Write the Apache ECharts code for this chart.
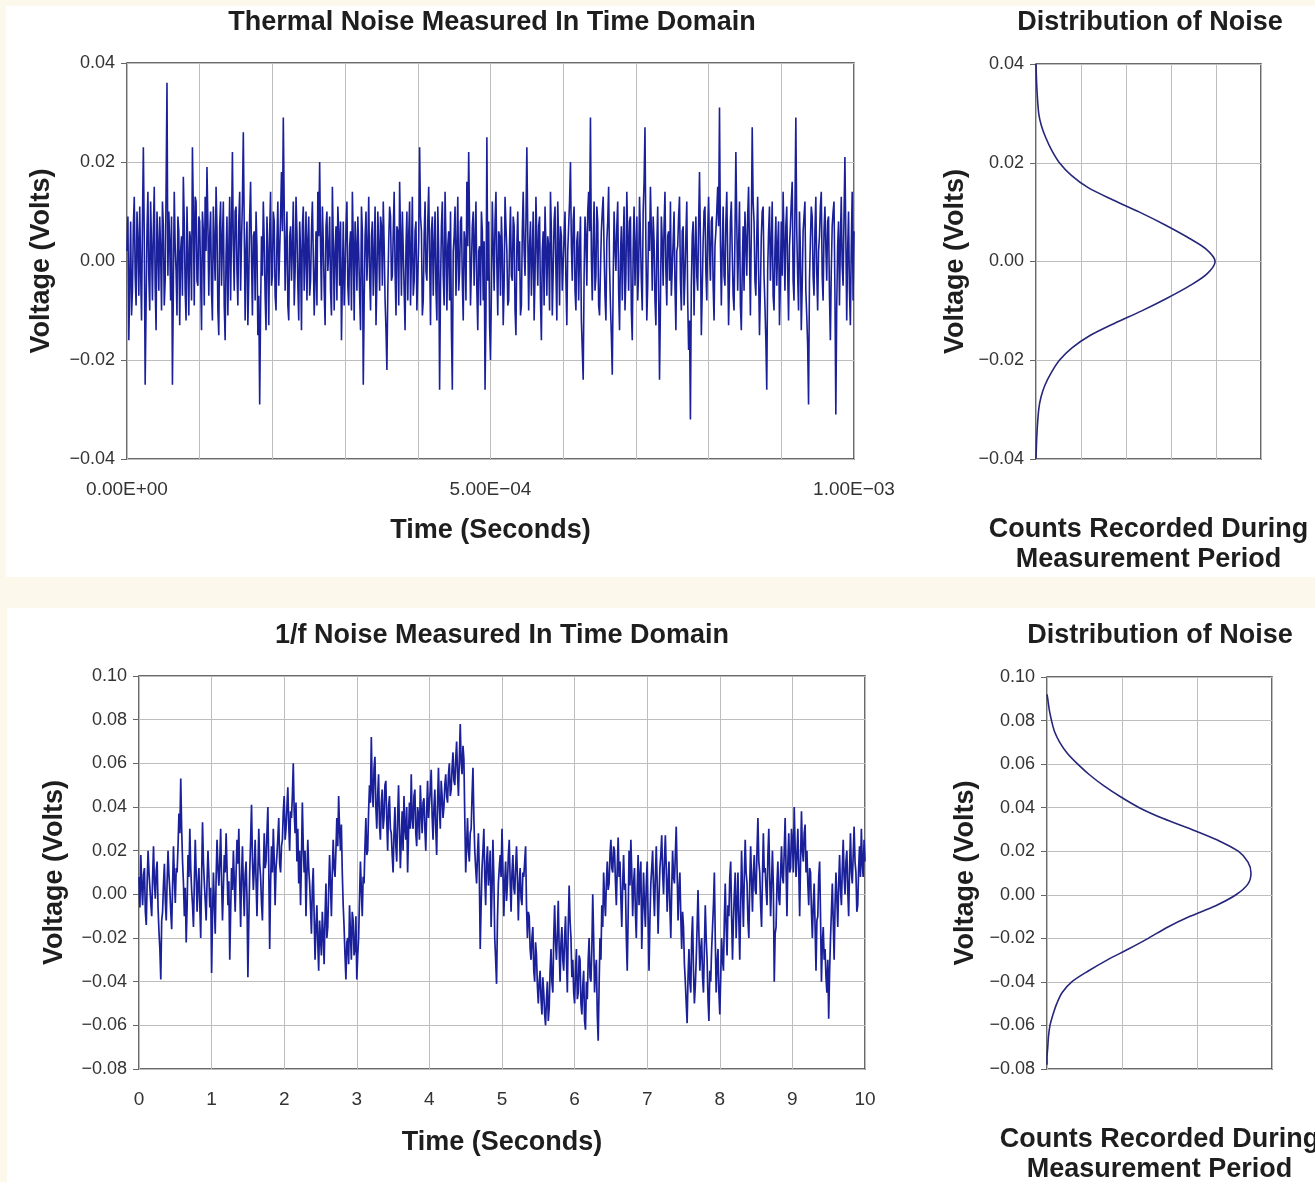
<!DOCTYPE html>
<html>
<head>
<meta charset="utf-8">
<title>Thermal and 1/f Noise</title>
<script src="https://cdn.jsdelivr.net/npm/echarts@6/dist/echarts.min.js"></script>
<style>
  html, body { margin: 0; padding: 0; background: #fdf8ec; }
  #chart { width: 1315px; height: 1182px; }
</style>
</head>
<body>
<div id="chart"></div>
<script>
// ---- Thermal noise record: 0 .. 1 ms, evenly spaced voltage samples in millivolts ----
const thermalDuration = 1e-3; // seconds
const thermalNoiseMillivolts = [
  2, 9, -16, -4, 8, -11, -6, 7, 13, -3, -9, 10, 4, -7, 11, -2, -12, 8, 23, 5, -25, -9, 6, 14, -3, -10, 12, 3, -8, 6, 15, -5, -14, 10, 3, -6, 9, 2, -10, 12,
  7, -9, -4, 14, 36, -3, 10, 4, -8, 9, -25, -6, 14, 3, -2, -11, 9, 6, -13, 2, 5, -7, 17, 8, -6, -12, 11, 1, -11, 6, 4, -8, 23, 10, -9, 13, 12, -4, -5, 9,
  8, -3, -14, 10, 6, -9, 13, 2, 19, 8, -7, 5, 10, -6, -12, 11, 3, -4, 15, 7, -10, -15, 7, 12, -5, 4, 12, -9, -16, 1, 9, -11, 2, 13, -8, 6, 22, 3, -6, 10,
  11, -2, -9, 8, 14, -6, 4, 12, 26, 7, -12, 2, 8, -13, -4, 9, 16, 1, -11, 5, 6, -8, 10, 3, -15, -7, -29, -10, 5, -3, 12, 4, -7, -14, 9, 2, -13, 6, 14, -5,
  -3, 10, 8, -7, -10, 4, 12, -5, 2, 9, 18, 6, 29, 11, -6, 3, 10, -9, -12, 5, 7, -4, 3, 12, -9, -2, 13, 6, -5, -12, 8, 2, -14, 7, 11, -6, 1, 10, -8, 4,
  9, -7, -4, 6, 12, 1, -11, -3, 6, -9, 14, 5, 20, 3, -8, 11, 4, -6, -13, 7, 10, -2, 2, 9, -6, -11, 15, 4, -10, 2, 7, -8, 11, 6, -5, 8, -16, -4, 8, -9,
  -2, 7, 12, -5, -9, 3, 6, -10, 14, 4, -12, 8, 3, -6, 9, 2, -7, -14, 11, 6, -25, -8, 5, 10, -4, 2, 13, -3, -10, 5, 8, -7, 1, 11, -13, -4, 10, 3, -6, 9,
  7, -5, 12, 3, -8, -14, -22, -6, 4, 11, 9, -4, -3, 6, 14, -2, -11, 7, 6, -9, 16, 5, -7, 10, 2, -6, -14, 3, 10, -8, 5, 12, -9, 1, 13, -7, -4, 6, 8, -10,
  -10, 4, 23, 9, 6, -11, -8, 5, 12, -2, -4, 8, 15, 1, -13, 6, 9, -7, 3, 10, -6, -12, 11, 2, -26, -5, 7, 12, -3, -9, 14, 4, -10, 3, 6, -8, 10, -14, -26, 2,
  5, 11, -7, 2, 13, -6, -2, 8, 9, -4, -12, 6, 4, -8, 16, 3, 22, 7, -9, -1, 7, 10, -5, 4, 12, -6, -14, 2, 3, -9, 10, 6, -8, 4, -26, -11, 25, -4, 8, -13,
  -20, -6, 12, 3, -6, 8, 14, -1, -11, 6, 5, -7, 9, 2, -13, -5, 13, 7, 2, -9, -8, 4, 11, -3, -4, 9, 7, -10, -15, 3, 10, -2, 4, -11, -9, 6, 14, 2, -3, 8,
  23, 6, -10, 3, 8, -7, 1, 10, -12, -3, 13, 4, -5, 7, 9, -8, -16, 2, 6, -9, 11, 3, -7, 5, 3, -10, 14, 6, -11, -2, 8, 11, -2, -12, 12, 4, -9, 7, 5, -6,
  -6, 5, 10, -4, -13, 2, 7, 12, 20, 3, -4, 8, 11, -6, -10, 4, 6, -8, 2, 9, -12, -18, -24, -3, 9, 5, -5, 10, 14, 6, 29, 1, -8, 4, 12, -6, -3, 11, 8, -9,
  -11, -2, 6, 10, 13, 2, -7, -12, 4, 8, 15, -1, -9, -15, -23, -4, 10, 3, -2, 7, 12, -6, -14, 1, 7, -8, 3, 11, -10, -3, 14, 5, -6, 8, 9, -10, -16, 2, 11, -5,
  2, 9, -8, -2, 13, 5, -4, -10, 10, 16, 27, 3, -12, -5, 8, 2, 15, 6, -6, 9, 4, -8, -13, 3, 11, -6, -24, -9, 9, 4, -5, 7, 14, -2, -9, 5, 6, -4, 12, -7,
  -7, 4, 10, -5, -14, 2, 3, 9, 13, -4, -10, 6, 7, -9, -3, 5, 12, -8, -18, -12, -32, -5, 5, 8, -11, 2, 9, -3, -6, 7, 18, 4, -15, -6, 4, 10, 11, -2, -8, 6,
  13, 2, -4, 8, 9, -5, -12, 3, 6, 10, 15, 7, 31, 4, -9, 2, 11, -3, -5, 8, 14, 1, -13, -4, 8, 12, 2, -7, -10, 5, 22, 8, -6, 3, 12, -9, -14, -2, 7, -6,
  10, 4, -3, 9, 15, 2, -11, 6, 27, 12, 8, -4, -7, 5, 13, -2, -15, -6, 5, 10, 11, -3, -9, -16, -26, -2, 6, 11, -4, 3, 12, -7, -10, 2, 9, -5, 3, 8, -13, -4,
  8, -3, 14, 4, -6, 7, 11, -2, -12, 3, 7, 12, 16, -4, -8, 10, 29, 6, -3, -10, 10, 2, -14, -5, 6, 9, 12, -6, -11, -17, -29, -4, 4, 11, 9, -3, -7, 6, 13, -2,
  -10, 2, 5, 11, 14, -3, -8, 6, 11, 3, -4, 8, 9, -7, -16, -2, 7, 10, 12, -6, -31, -9, 3, 8, -9, 4, 13, -1, -5, 9, 21, 5, -12, 2, 10, -6, -13, 3, 14, -8,
  6
];

// ---- 1/f noise record: 0 .. 10 s, evenly spaced voltage samples in millivolts ----
const flickerDuration = 10; // seconds
const flickerNoiseMillivolts = [
  8, -6, 18, 4, -5, 9, 12, -8, -14, 6, 20, 10, 3, -4, -10, 8, 22, 5, -2, 11,
  15, -6, -17, -25, -39, -12, -8, 5, 14, -3, -12, 6, 20, 9, 2, -8, -16, 4, 22, 7,
  -4, 12, 10, 22, 37, 28, 53, 30, 15, 5, -10, 3, -22, -6, 18, 8, 30, 12, 2, -5,
  -15, 6, 25, 10, -8, 4, 12, -5, -20, 8, 33, 15, 5, -3, -12, 6, 20, 9, -6, 3,
  -36, -10, 10, -4, -18, 8, 25, 12, 4, 15, 30, 6, -12, 3, 18, 10, 28, 12, -5, 6,
  -30, -8, 12, 2, 20, 6, -8, 10, 25, 14, 30, 5, -15, 8, 22, 4, -10, 9, 15, -2,
  -38, -12, 10, 25, 41, 16, 2, 12, 25, 6, -10, 10, 30, 14, 8, -4, -12, 10, 28, 12,
  15, 28, 40, 12, -25, 5, 22, 10, 30, 16, -5, 12, 18, 26, 35, 14, 10, 22, 25, 38,
  45, 25, 30, 40, 49, 32, 20, 38, 35, 45, 60, 38, 28, 42, 15, 30, 5, 20, -5, 15,
  42, 22, 10, 20, -10, 8, 25, 12, 5, -6, -18, 3, 12, -10, -30, -15, -5, -22, -35, -12,
  -20, -28, -8, -18, -32, -10, 5, -20, -15, 2, 18, 5, -10, 10, 25, 12, 8, 20, 35, 22,
  45, 30, 20, 32, 10, -5, -15, -28, -39, -22, -20, -32, -5, -18, -30, -8, -12, -28, -25, -10,
  -39, -28, -20, -2, 15, 2, -10, 8, 5, 22, 35, 18, 20, 38, 50, 42, 72, 48, 40, 58,
  63, 40, 30, 45, 55, 32, 25, 42, 48, 30, 35, 50, 52, 34, 20, 40, 45, 30, 28, 18,
  10, 28, 40, 22, 15, 35, 50, 30, 12, 25, 38, 20, 45, 30, 25, 40, 10, 28, 42, 30,
  55, 35, 30, 45, 48, 28, 22, 40, 36, 25, 50, 38, 28, 42, 44, 30, 20, 38, 52, 35,
  35, 48, 57, 36, 25, 40, 48, 30, 18, 42, 58, 40, 30, 52, 45, 35, 40, 50, 55, 45,
  42, 55, 60, 45, 48, 58, 65, 52, 50, 62, 70, 55, 45, 62, 78, 60, 55, 68, 62, 35,
  10, 22, 35, 20, 15, 28, 30, 45, 58, 35, 20, 12, 5, 18, 28, 10, -25, -5, 12, 20,
  30, 8, -5, 15, 22, 4, 10, 20, -15, 2, 25, 8, -20, -30, -41, -12, 5, 12, 18, 8,
  30, 12, -10, 5, 15, -3, 5, 18, 25, 6, -8, 10, 18, 3, 0, 12, 22, 8, -12, 4,
  12, -2, -5, 10, 8, 15, 22, -5, -20, -8, -10, -25, -30, -20, -15, -35, -40, -22, -28, -42,
  -50, -40, -35, -48, -55, -38, -45, -55, -60, -48, -40, -58, -52, -35, -25, -40, -45, -20, -5, -22,
  -30, -18, -3, -25, -40, -22, -15, -30, -35, -20, -10, -28, -45, -15, 4, -12, -20, -38, -30, -45,
  -50, -35, -25, -48, -45, -28, -30, -50, -55, -42, -35, -58, -62, -40, -48, -30, -20, -38, -40, -25,
  0, -20, -45, -35, -30, -55, -67, -42, -20, -30, -5, -15, 10, -2, -10, 5, 15, 2, 5, 18,
  25, 12, 10, 22, 20, 6, -5, 12, 26, 8, 15, -2, -15, 5, 18, 2, 5, -20, -35, -10,
  20, 4, 25, 10, -10, 5, 12, -8, -20, 3, 18, -5, 8, 15, -25, -8, 10, -5, -15, 5,
  15, -10, -35, -12, 5, 12, 20, 2, -10, 8, 22, 5, -18, -2, 12, 18, 27, 10, 0, 15,
  27, 12, -8, 5, 15, -6, -20, 2, 20, 8, 5, 18, 31, 10, -12, 2, 10, -10, -25, -8,
  -15, -32, -40, -50, -59, -38, -25, -40, -45, -20, -10, -35, -50, -42, -30, -15, 2, -18, -35, -25,
  -20, -38, -45, -25, -5, -20, -30, -48, -58, -35, -40, -25, -15, -5, 10, -20, -45, -32, -25, -45,
  -55, -38, -20, -30, -35, -12, 5, -15, -28, -5, -10, 8, 15, -10, -30, -12, 0, 10, -20, -5,
  10, -12, -30, -5, 20, 2, -15, 8, 25, 10, 5, -12, -20, 5, 22, 6, -8, 10, 18, 2,
  0, 20, 35, 15, 10, -5, -15, 8, 28, 10, 12, 2, -5, 18, 30, 8, -10, 5, 20, 4,
  -40, -18, -15, 5, 15, -2, -5, 10, 22, 8, 5, 20, 35, 12, -10, 15, 28, 10, 12, 30,
  25, 10, 40, 22, 8, 18, 30, 12, -10, 15, 38, 20, 15, 28, 32, 10, 20, 5, -5, 12,
  10, -8, -20, -5, 5, -15, -35, -12, -10, 8, 15, -10, -40, -22, -15, -30, -25, -38, -45, -30,
  -57, -35, -20, -8, 5, -12, -30, -5, 10, -2, -15, 5, 18, 2, -5, 12, 25, 8, 0, 15,
  20, 2, -10, 12, 28, 10, 5, 18, 31, 15, 10, -8, -5, 12, 22, 8, 30, 14, 8, 25, 15
];

// ---- Distribution of the thermal record (voltage level vs. counts) ----
const thermalDistVolts = [
  0.040, 0.035, 0.030, 0.0275, 0.025, 0.0225, 0.020, 0.0175, 0.015, 0.0125,
  0.010, 0.0075, 0.005, 0.0025, 0.000, -0.0025, -0.005, -0.0075, -0.010, -0.0125,
  -0.015, -0.0175, -0.020, -0.0225, -0.025, -0.0275, -0.030, -0.035, -0.040
];
const thermalDistCounts = [
  0.00, 0.02, 0.06, 0.12, 0.22, 0.35, 0.52, 0.78, 1.15, 1.70,
  2.30, 2.85, 3.35, 3.78, 3.98, 3.80, 3.40, 2.90, 2.35, 1.75,
  1.20, 0.80, 0.52, 0.34, 0.20, 0.11, 0.06, 0.02, 0.00
];

// ---- Distribution of the 1/f record ----
const flickerDistVolts = [
  0.092, 0.090, 0.085, 0.080, 0.075, 0.070, 0.065, 0.060, 0.055, 0.050,
  0.045, 0.040, 0.035, 0.030, 0.025, 0.020, 0.015, 0.010, 0.005, 0.000,
  -0.005, -0.010, -0.015, -0.020, -0.025, -0.030, -0.035, -0.040, -0.045, -0.050,
  -0.055, -0.060, -0.065, -0.070, -0.075, -0.078
];
const flickerDistCounts = [
  0.00, 0.01, 0.03, 0.06, 0.10, 0.17, 0.27, 0.41, 0.57, 0.76,
  0.98, 1.23, 1.55, 1.93, 2.28, 2.55, 2.68, 2.72, 2.68, 2.52,
  2.25, 1.90, 1.60, 1.35, 1.08, 0.80, 0.55, 0.33, 0.20, 0.13,
  0.08, 0.04, 0.02, 0.01, 0.00, 0.00
];

// ---- Axis tick labels ----
const thermalTimeTickValues = [0, 5e-4, 1e-3];
const thermalTimeTickLabels = ['0.00E+00', '5.00E\u221204', '1.00E\u221203'];

// ---- Styling ----
const FONT = "'Liberation Sans', Arial, Helvetica, sans-serif";
const CREAM = '#fdf8ec';
const TRACE = '#1a1f9a';
const CURVE = '#26267a';
const GRIDLINE = '#bdbdbd';
const FRAME = '#3a3a3a';
const TEXT = '#1e1e1e';

const toSeries = (mv, duration) => {
  const step = duration / (mv.length - 1);
  return mv.map((v, i) => [i * step, v / 1000]);
};
const toCurve = (volts, counts) => volts.map((v, i) => [counts[i], v]);

const voltLabel = v => {
  if (Math.abs(v) < 1e-9) return '0.00';
  return (v < 0 ? '\u2212' : '') + Math.abs(v).toFixed(2);
};
const thermalTimeLabel = v => {
  for (let k = 0; k < thermalTimeTickValues.length; k++) {
    if (Math.abs(v - thermalTimeTickValues[k]) < 1e-9) return thermalTimeTickLabels[k];
  }
  return '';
};

const titleStyle = { fontFamily: FONT, fontSize: 27, fontWeight: 'bold', color: TEXT };
const nameStyle = { fontFamily: FONT, fontSize: 27, fontWeight: 'bold', color: TEXT, lineHeight: 30 };
const yTickStyle = { fontFamily: FONT, fontSize: 18, color: '#333' };
const xTickStyle = { fontFamily: FONT, fontSize: 19, color: '#333' };
const splitLine = { show: true, lineStyle: { color: GRIDLINE, width: 1 } };

const gridBase = {
  show: true, backgroundColor: 'transparent', borderColor: FRAME, borderWidth: 1.5,
  containLabel: false, outerBoundsMode: 'none'
};

function voltAxis(gridIndex, min, max, nameGap) {
  return {
    type: 'value', gridIndex, min, max, interval: 0.02,
    axisLine: { show: false },
    axisTick: { show: true, length: 6, lineStyle: { color: '#666' } },
    axisLabel: Object.assign({ formatter: voltLabel, margin: 12 }, yTickStyle),
    splitLine,
    name: 'Voltage (Volts)', nameLocation: 'middle', nameGap, nameTextStyle: nameStyle
  };
}
function countsAxis(gridIndex, max) {
  return {
    type: 'value', gridIndex, min: 0, max, interval: 1,
    axisLine: { show: false }, axisTick: { show: false }, axisLabel: { show: false },
    splitLine,
    name: 'Counts Recorded During\nMeasurement Period', nameLocation: 'middle', nameGap: 56,
    nameTextStyle: nameStyle
  };
}

const option = {
  backgroundColor: CREAM,
  animation: false,
  graphic: {
    elements: [
      { type: 'rect', z: -1, shape: { x: 6, y: 6, width: 1309, height: 571 }, style: { fill: '#ffffff' } },
      { type: 'rect', z: -1, shape: { x: 7, y: 608, width: 1308, height: 574 }, style: { fill: '#ffffff' } },
      { type: 'rect', z: 100, shape: { x: 0, y: 577, width: 1315, height: 31 }, style: { fill: CREAM } }
    ]
  },
  title: [
    { text: 'Thermal Noise Measured In Time Domain', left: 492, top: 9, textAlign: 'center', textStyle: titleStyle, padding: 0 },
    { text: 'Distribution of Noise', left: 1150, top: 9, textAlign: 'center', textStyle: titleStyle, padding: 0 },
    { text: '1/f Noise Measured In Time Domain', left: 502, top: 622, textAlign: 'center', textStyle: titleStyle, padding: 0 },
    { text: 'Distribution of Noise', left: 1160, top: 622, textAlign: 'center', textStyle: titleStyle, padding: 0 }
  ],
  grid: [
    Object.assign({ left: 127, top: 63, width: 727, height: 396 }, gridBase),
    Object.assign({ left: 1036, top: 64, width: 225, height: 395 }, gridBase),
    Object.assign({ left: 139, top: 676, width: 726, height: 393 }, gridBase),
    Object.assign({ left: 1047, top: 677, width: 225, height: 392 }, gridBase)
  ],
  xAxis: [
    {
      type: 'value', gridIndex: 0, min: 0, max: thermalDuration, interval: 1e-4,
      axisLine: { show: false }, axisTick: { show: false },
      axisLabel: Object.assign({ formatter: thermalTimeLabel, margin: 21, showMinLabel: true, showMaxLabel: true }, xTickStyle),
      splitLine,
      name: 'Time (Seconds)', nameLocation: 'middle', nameGap: 57, nameTextStyle: nameStyle
    },
    countsAxis(1, 5),
    {
      type: 'value', gridIndex: 2, min: 0, max: flickerDuration, interval: 1,
      axisLine: { show: false }, axisTick: { show: false },
      axisLabel: Object.assign({ margin: 21 }, xTickStyle),
      splitLine,
      name: 'Time (Seconds)', nameLocation: 'middle', nameGap: 59, nameTextStyle: nameStyle
    },
    countsAxis(3, 3)
  ],
  yAxis: [
    voltAxis(0, -0.04, 0.04, 70),
    voltAxis(1, -0.04, 0.04, 65),
    voltAxis(2, -0.08, 0.10, 69),
    voltAxis(3, -0.08, 0.10, 66)
  ],
  series: [
    {
      type: 'line', xAxisIndex: 0, yAxisIndex: 0, showSymbol: false, symbol: 'none',
      data: toSeries(thermalNoiseMillivolts, thermalDuration),
      lineStyle: { color: TRACE, width: 1.6 }
    },
    {
      type: 'line', xAxisIndex: 1, yAxisIndex: 1, showSymbol: false, symbol: 'none', smooth: 0.3,
      data: toCurve(thermalDistVolts, thermalDistCounts),
      lineStyle: { color: CURVE, width: 1.6 }
    },
    {
      type: 'line', xAxisIndex: 2, yAxisIndex: 2, showSymbol: false, symbol: 'none',
      data: toSeries(flickerNoiseMillivolts, flickerDuration),
      lineStyle: { color: TRACE, width: 1.7 }
    },
    {
      type: 'line', xAxisIndex: 3, yAxisIndex: 3, showSymbol: false, symbol: 'none', smooth: 0.3,
      data: toCurve(flickerDistVolts, flickerDistCounts),
      lineStyle: { color: CURVE, width: 1.6 }
    }
  ]
};

const chart = echarts.init(document.getElementById('chart'), null, { renderer: 'canvas', width: 1315, height: 1182 });
chart.setOption(option);
</script>
</body>
</html>
